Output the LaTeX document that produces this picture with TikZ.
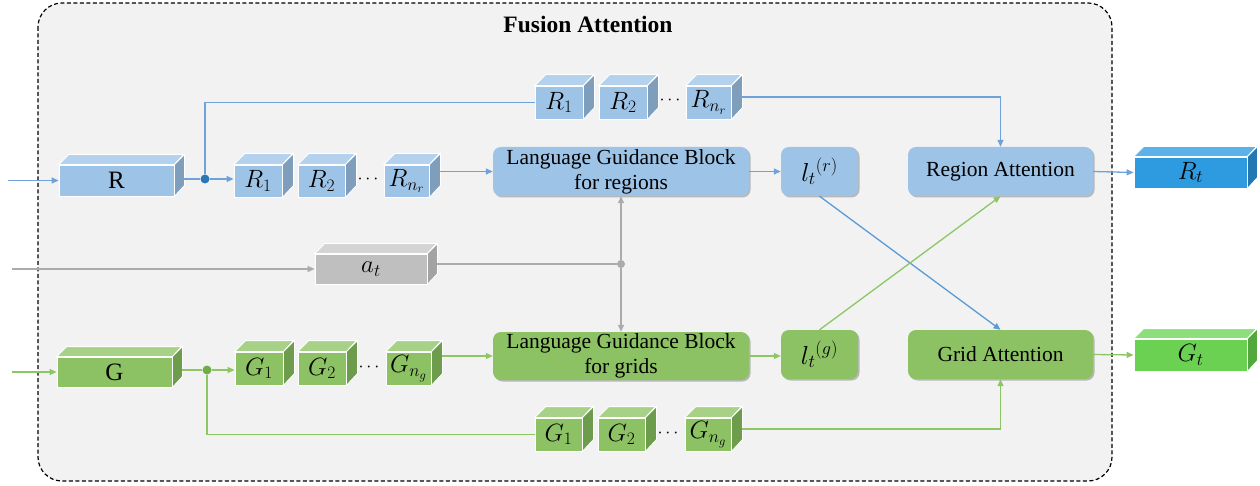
\RequirePackage{fix-cm}
\documentclass[tikz,border=0pt]{standalone}
\usepackage{fontspec}
\setmainfont{Liberation Serif}
\newfontfamily\timesfont{Liberation Serif}
\usetikzlibrary{arrows.meta,shadows,calc}

% palette
\definecolor{panel}{HTML}{F2F2F2}
\definecolor{bluef}{HTML}{9DC3E6}
\definecolor{bluet}{HTML}{B4D2EE}
\definecolor{blues}{HTML}{7E9EBC}
\definecolor{brightf}{HTML}{2E9ADF}
\definecolor{brightt}{HTML}{5BB2EA}
\definecolor{brights}{HTML}{2478B2}
\definecolor{greenf}{HTML}{8CC164}
\definecolor{greent}{HTML}{A6D186}
\definecolor{greens}{HTML}{6E9C4D}
\definecolor{limef}{HTML}{6AD152}
\definecolor{limet}{HTML}{8DDF7B}
\definecolor{limes}{HTML}{53A83D}
\definecolor{grayf}{HTML}{BFBFBF}
\definecolor{grayt}{HTML}{D4D4D4}
\definecolor{grays}{HTML}{A3A3A3}
\definecolor{blueline}{HTML}{6FA3D8}
\definecolor{bluecross}{HTML}{5B9BD5}
\definecolor{greenline}{HTML}{8CC665}
\definecolor{grayline}{HTML}{ABABAB}
\definecolor{bluedot}{HTML}{2E75B6}
\definecolor{greendot}{HTML}{70AD47}

\tikzset{
  conn/.style={line width=1.3pt},
  tip/.style={-{Triangle[length=7pt,width=6pt]}},
  cubeface/.style={draw=white, line width=0.8pt},
  block/.style={rounded corners=8pt, inner sep=0pt, align=center,
    font=\timesfont\fontsize{21.5}{25}\selectfont,
    drop shadow={shadow xshift=1.5pt, shadow yshift=-1.5pt, opacity=0.35, fill=black!70}},
  bblock/.style={block, fill=bluef},
  gblock/.style={block, fill=greenf},
  junction/.style={circle, inner sep=0pt, minimum size=9pt},
  mathlbl/.style={font=\fontsize{25}{27}\selectfont},
  textlbl/.style={font=\timesfont\fontsize{25}{27}\selectfont},
  dotslbl/.style={font=\fontsize{18}{20}\selectfont},
}

% cuboid: name, centre x, centre y, width, height, depth, colour prefix, label, label style
\newcommand{\cuboid}[9]{%
  \node[draw=white, line width=0.8pt, fill=#7f, minimum width=#4pt,
        minimum height=#5pt, inner sep=0pt, #9] (#1) at (#2,#3) {#8};
  \filldraw[cubeface, fill=#7t] (#1.north west) -- ++(#6pt,#6pt) -- ++(#4pt,0pt)
      -- (#1.north east) -- cycle;
  \filldraw[cubeface, fill=#7s] (#1.north east) -- ++(#6pt,#6pt) -- ++(0pt,-#5pt)
      -- (#1.south east) -- cycle;
  \coordinate (#1-r) at ($(#1.east)+(#6pt,0.5*#6pt)$);
}

\begin{document}
\begin{tikzpicture}[x=1pt,y=-1pt]
\useasboundingbox (0,0) rectangle (1260,486);

% frame of the fusion attention module
\draw[fill=panel, line width=1.2pt, dash pattern=on 4pt off 2.5pt, rounded corners=24pt]
  (38,3) rectangle (1112,481);
\node[font=\timesfont\fontsize{23.5}{27}\selectfont\bfseries] (title) at (588,24) {Fusion Attention};

% processing blocks
\node[bblock, minimum width=256pt, minimum height=49pt] (lgbr) at (621,171.5)
  {Language Guidance Block\\for regions};
\node[bblock, minimum width=77pt, minimum height=49pt, font=\fontsize{26}{28}\selectfont]
  (lr) at (819.5,171.5) {$l_t{}^{(r)}$};
\node[bblock, minimum width=185pt, minimum height=49pt] (ra) at (1000.5,171.5)
  {Region Attention};
\node[gblock, minimum width=256pt, minimum height=48pt] (lgbg) at (621,356)
  {Language Guidance Block\\for grids};
\node[gblock, minimum width=77pt, minimum height=49pt, font=\fontsize{26}{28}\selectfont]
  (lg) at (819.5,354.5) {$l_t{}^{(g)}$};
\node[gblock, minimum width=185pt, minimum height=49pt] (ga) at (1000.5,354.5)
  {Grid Attention};

% region features
\cuboid{R}{116.5}{180.5}{115}{31}{10}{blue}{R}{textlbl}
\cuboid{r1}{258}{181}{48}{32}{11}{blue}{$R_1$}{mathlbl}
\cuboid{r2}{321.5}{181}{47}{32}{11}{blue}{$R_2$}{mathlbl}
\cuboid{rn}{406.5}{181}{45}{32}{11}{blue}{$R_{n_r}$}{mathlbl}
\node[dotslbl] (rdots) at (368,180) {$\cdots$};
\cuboid{tr1}{559}{102.5}{48}{33}{11}{blue}{$R_1$}{mathlbl}
\cuboid{tr2}{623}{102.5}{48}{33}{11}{blue}{$R_2$}{mathlbl}
\cuboid{trn}{708.5}{102.5}{45}{33}{11}{blue}{$R_{n_r}$}{mathlbl}
\node[dotslbl] (trdots) at (670,101) {$\cdots$};

% word feature
\cuboid{at}{371}{269}{112}{30}{10}{gray}{$a_t$}{mathlbl}

% grid features
\cuboid{G}{114.5}{372}{115}{30}{10}{green}{G}{textlbl}
\cuboid{g1}{259}{368.5}{48}{33}{11}{green}{$G_1$}{mathlbl}
\cuboid{g2}{322}{368.5}{48}{33}{11}{green}{$G_2$}{mathlbl}
\cuboid{gn}{408.5}{368.5}{45}{33}{11}{green}{$G_{n_g}$}{mathlbl}
\node[dotslbl] (gdots) at (369,367) {$\cdots$};
\cuboid{bg1}{558.5}{434.5}{47}{33}{11}{green}{$G_1$}{mathlbl}
\cuboid{bg2}{621.5}{434.5}{47}{33}{11}{green}{$G_2$}{mathlbl}
\cuboid{bgn}{708}{434.5}{46}{33}{11}{green}{$G_{n_g}$}{mathlbl}
\node[dotslbl] (bgdots) at (668,433) {$\cdots$};

% outputs
\cuboid{Rt}{1190.5}{172.5}{113}{31}{10}{bright}{$R_t$}{mathlbl}
\cuboid{Gt}{1190.5}{355}{113}{32}{10}{lime}{$G_t$}{mathlbl}

% branch points
\node[junction, fill=bluedot] (rdot) at (205,179) {};
\node[junction, fill=greendot] (gdot) at (207,370) {};
\node[junction, fill=grayline, minimum size=8pt] (adot) at (621,264) {};

% inputs
\coordinate (rin) at (8,180.5);
\coordinate (ain) at (12,269);
\coordinate (gin) at (12,372);

% region branch
\draw[conn, draw=blueline, tip] (rin) -- (R.west);
\draw[conn, draw=blueline] (R-r |- rdot) -- (rdot);
\draw[conn, draw=blueline, tip] (rdot) -- (rdot -| r1.west);
\draw[conn, draw=blueline] (rdot) |- (tr1.west);
\draw[conn, draw=blueline, tip] (lgbr.west -| rn-r) -- (lgbr.west);
\draw[conn, draw=blueline, tip] (trn-r) -| (ra.north);
\draw[conn, draw=blueline, tip] (lgbr.east) -- (lr.west |- lgbr.east);
\draw[conn, draw=blueline, tip] (ra.east) -- (Rt.west);

% word branch
\draw[conn, draw=grayline, tip] (ain) -- (at.west);
\draw[conn, draw=grayline] (adot -| at-r) -- (adot);
\draw[conn, draw=grayline, tip] (adot) -- (lgbr.south);
\draw[conn, draw=grayline, tip] (adot) -- (lgbg.north);

% grid branch
\draw[conn, draw=greenline, tip] (gin) -- (G.west);
\draw[conn, draw=greenline] (G-r |- gdot) -- (gdot);
\draw[conn, draw=greenline, tip] (gdot) -- (gdot -| g1.west);
\draw[conn, draw=greenline] (gdot) |- (bg1.west);
\draw[conn, draw=greenline, tip] (lgbg.west -| gn-r) -- (lgbg.west);
\draw[conn, draw=greenline, tip] (bgn-r) -| (ga.south);
\draw[conn, draw=greenline, tip] (lgbg.east) -- (lg.west |- lgbg.east);
\draw[conn, draw=greenline, tip] (ga.east) -- (Gt.west);

% cross guidance
\draw[conn, draw=bluecross, tip] (lr.south) -- (ga.north);
\draw[conn, draw=greenline, tip] (lg.north) -- (ra.south);
\end{tikzpicture}
\end{document}
